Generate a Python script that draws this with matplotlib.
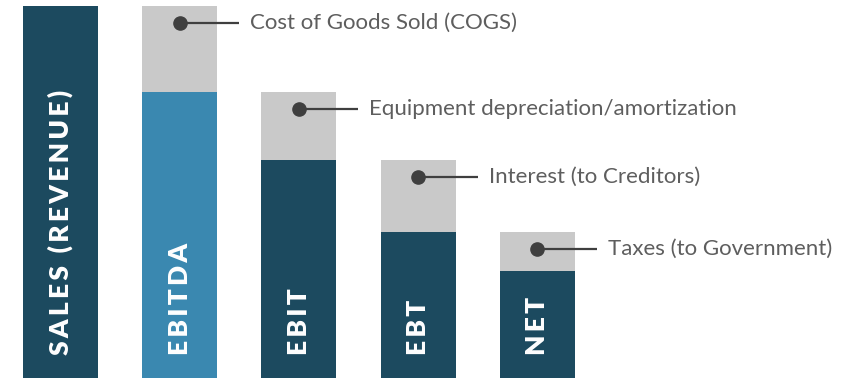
import matplotlib
matplotlib.use("Agg")
import matplotlib.pyplot as plt

# ---- data ----
categories = ["SALES (REVENUE)", "EBITDA", "EBIT", "EBT", "NET"]
values = [100.0, 76.9, 58.6, 39.2, 28.8]
deduction_labels = ["Cost of Goods Sold (COGS)",
                    "Equipment depreciation/amortization",
                    "Interest (to Creditors)",
                    "Taxes (to Government)"]

# ---- style ----
NAVY = "#1c4a5f"
BLUE = "#3a88b0"
GRAY = "#c9c9c9"
DOT = "#3f3f3f"
TXT = "#5e5e5e"
bar_colors = [NAVY, BLUE, NAVY, NAVY, NAVY]

W, H, DPI = 853, 389, 100
fig = plt.figure(figsize=(W / DPI, H / DPI), dpi=DPI)
ax = fig.add_axes([0, 0, 1, 1])

# pixel scales (px per data unit)
XS = 119.2
YS = 3.72
x0_px = 60.5
y0_px = 11
ax.set_xlim(-x0_px / XS, (W - x0_px) / XS)
ax.set_ylim(-y0_px / YS, (H - y0_px) / YS)
ax.axis("off")

bw = 75 / XS
xs = list(range(len(categories)))

# main bars
ax.bar(xs, values, width=bw, color=bar_colors, linewidth=0)
# deduction (gray) segments
prev = values[:-1]
ded = [p - v for p, v in zip(prev, values[1:])]
ax.bar(xs[1:], ded, bottom=values[1:], width=bw, color=GRAY, linewidth=0)

SP = "\u2009"
def spaced(s):
    return SP.join(list(s))

for x, cat in zip(xs, categories):
    ax.text(x, 23 / YS, spaced(cat),
            rotation=90, ha="center", va="bottom", color="white",
            fontsize=19, fontweight="heavy", family=["Lato", "DejaVu Sans"])

# callouts
for x, top, lab in zip(xs[1:], prev, deduction_labels):
    yy = top - 17 / YS
    x_end = x + bw / 2 + 22 / XS
    ax.plot([x, x_end], [yy, yy], color=DOT, lw=1.6, solid_capstyle="butt", zorder=3)
    ax.plot([x], [yy], marker="o", ms=9.5, color=DOT, mec=DOT, zorder=4)
    ax.text(x + bw / 2 + 33 / XS, yy, lab, ha="left", va="center",
            color=TXT, fontsize=16, family="Lato")

fig.savefig("out.png", dpi=DPI, facecolor="white")
